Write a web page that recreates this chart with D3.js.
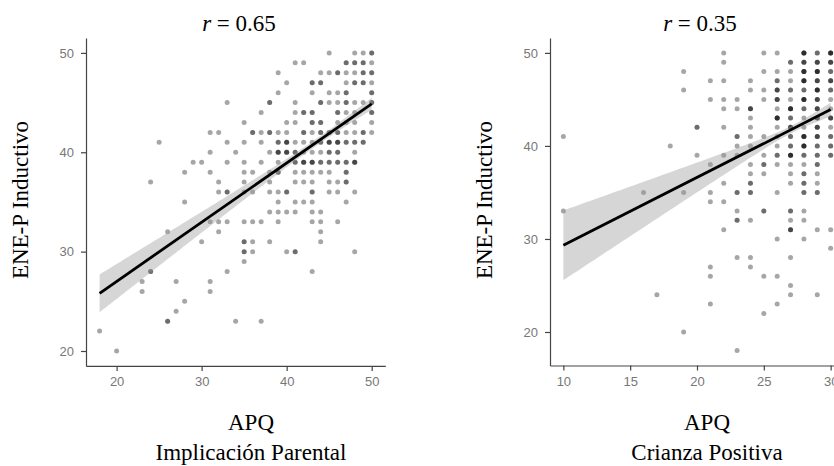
<!DOCTYPE html>
<html><head><meta charset="utf-8">
<script src="https://cdn.jsdelivr.net/npm/d3@7"></script>
<style>
html,body{margin:0;padding:0;background:#fff;}
svg{display:block;}
</style></head>
<body>
<svg id="chart" width="834" height="466"></svg>
<script>
// ---------- DATA ----------
// [x, y, n] : n = number of overlapping observations at that grid point
const leftPoints = [
 [45,50,1],[48,50,1],[49,50,1],[50,50,2],
 [41,49,1],[42,49,1],[47,49,2],[48,49,2],[49,49,2],[50,49,1],
 [39,48,1],[44,48,1],[45,48,1],[46,48,2],[47,48,1],[48,48,1],[49,48,2],[50,48,2],
 [40,47,1],[43,47,2],[44,47,2],[47,47,1],[48,47,2],[49,47,2],[50,47,1],
 [39,46,1],[43,46,1],[45,46,1],[46,46,1],[47,46,2],[50,46,2],
 [33,45,1],[38,45,2],[41,45,1],[44,45,2],[45,45,1],[46,45,1],[47,45,2],[48,45,1],[49,45,1],[50,45,2],
 [37,44,1],[41,44,1],[42,44,2],[43,44,2],[46,44,2],[47,44,1],[48,44,1],[50,44,2],
 [35,43,1],[40,43,1],[41,43,1],[43,43,2],[44,43,2],[46,43,1],[47,43,1],[48,43,1],[50,43,1],
 [31,42,1],[32,42,1],[36,42,2],[37,42,1],[38,42,2],[39,42,1],[40,42,1],[42,42,2],[43,42,1],[44,42,2],[45,42,2],[46,42,2],[47,42,1],[48,42,1],[49,42,2],[50,42,1],
 [25,41,1],[33,41,1],[35,41,1],[37,41,1],[39,41,2],[40,41,3],[41,41,1],[42,41,1],[43,41,1],[44,41,2],[45,41,3],[46,41,3],[47,41,2],[48,41,2],[49,41,2],
 [31,40,1],[34,40,1],[38,40,1],[39,40,3],[40,40,3],[41,40,2],[42,40,1],[43,40,1],[44,40,1],[45,40,2],[46,40,2],[48,40,1],
 [29,39,1],[30,39,1],[33,39,1],[35,39,1],[37,39,1],[39,39,1],[41,39,2],[42,39,3],[43,39,3],[44,39,2],[45,39,2],[46,39,2],[47,39,2],[48,39,3],
 [28,38,1],[31,38,1],[35,38,1],[36,38,1],[38,38,1],[39,38,2],[41,38,1],[42,38,1],[43,38,1],[44,38,1],[45,38,1],[47,38,2],
 [24,37,1],[32,37,1],[35,37,1],[38,37,1],[41,37,1],[42,37,1],[43,37,1],[45,37,1],[46,37,1],[47,37,2],
 [32,36,1],[33,36,2],[35,36,1],[36,36,1],[38,36,1],[39,36,1],[40,36,2],[43,36,2],[45,36,1],[46,36,1],[48,36,1],
 [28,35,1],[39,35,1],[41,35,1],[42,35,1],[43,35,1],[47,35,1],
 [38,34,1],[39,34,1],[40,34,1],[41,34,1],[43,34,1],[44,34,1],
 [31,33,1],[32,33,1],[33,33,1],[35,33,1],[36,33,1],[37,33,1],[39,33,1],[43,33,1],[44,33,1],[46,33,1],
 [26,32,1],[32,32,1],[44,32,1],
 [30,31,1],[35,31,2],[36,31,1],[38,31,1],[44,31,1],
 [35,30,2],[36,30,1],[40,30,1],[41,30,2],[48,30,1],
 [35,29,1],
 [24,28,2],[33,28,1],[43,28,1],
 [23,27,1],[27,27,1],[31,27,1],
 [23,26,1],[31,26,1],
 [28,25,1],
 [27,24,1],
 [26,23,2],[34,23,1],[37,23,1],
 [18,22,1],
 [20,20,1]
];
const rightPoints = [
 [22,50,1],[25,50,1],[26,50,1],[28,50,4],[29,50,2],[30,50,4],
 [22,49,1],[27,49,2],[28,49,3],[29,49,3],[30,49,3],
 [19,48,1],[25,48,1],[26,48,1],[27,48,1],[28,48,4],[29,48,4],[30,48,2],
 [21,47,1],[22,47,1],[24,47,1],[26,47,2],[27,47,1],[28,47,4],[29,47,3],[30,47,3],
 [19,46,1],[24,46,1],[25,46,1],[26,46,3],[27,46,2],[28,46,2],[29,46,4],[30,46,2],
 [21,45,1],[22,45,1],[23,45,1],[25,45,1],[26,45,3],[27,45,1],[28,45,4],[29,45,3],[30,45,1],
 [22,44,1],[23,44,1],[24,44,3],[26,44,1],[27,44,4],[28,44,2],[29,44,3],[30,44,1],
 [24,43,1],[26,43,4],[27,43,2],[28,43,1],[29,43,3],[30,43,3],
 [20,42,2],[22,42,1],[24,42,1],[26,42,1],[27,42,3],[28,42,1],[29,42,3],[30,42,1],
 [10,41,1],[23,41,2],[24,41,1],[25,41,1],[26,41,1],[27,41,2],[28,41,4],[29,41,3],[30,41,2],
 [18,40,1],[23,40,1],[24,40,1],[26,40,1],[27,40,2],[28,40,4],[29,40,2],[30,40,2],
 [20,39,1],[22,39,1],[23,39,1],[25,39,1],[26,39,2],[27,39,4],[28,39,2],[29,39,2],[30,39,2],
 [21,38,1],[24,38,1],[25,38,2],[26,38,1],[27,38,1],[28,38,1],[29,38,2],
 [24,37,1],[25,37,1],[27,37,1],[28,37,2],[29,37,1],
 [22,36,1],[24,36,2],[27,36,1],[28,36,2],[29,36,1],
 [16,35,1],[19,35,1],[21,35,1],[23,35,2],[24,35,2],[26,35,1],[28,35,2],[29,35,2],
 [21,34,1],[22,34,1],
 [10,33,1],[23,33,1],[25,33,2],[27,33,2],[28,33,1],
 [23,32,2],[24,32,1],[27,32,1],[28,32,1],
 [22,31,1],[27,31,3],[29,31,1],[30,31,1],
 [26,30,1],[28,30,1],
 [30,29,1],
 [23,28,1],[24,28,1],[27,28,1],
 [21,27,1],[24,27,1],
 [21,26,1],[25,26,1],[26,26,1],
 [27,25,1],
 [17,24,1],[27,24,1],[29,24,1],
 [21,23,1],[26,23,1],
 [25,22,1],
 [19,20,1],
 [23,18,1]
];
// fitted regression lines (intercept, slope, x extent) and CI shape
const leftFit  = {intercept: 15.08, slope: 0.596, xmin: 18, xmax: 50, ciMin: 0.35, ciCenter: 43.4, ciGrow: 0.0736};
const rightFit = {intercept: 22.02, slope: 0.7295, xmin: 10, xmax: 30, ciMin: 0.40, ciCenter: 27.1, ciGrow: 0.218};

const leftXTicks  = [20, 30, 40, 50];
const leftYTicks  = [20, 30, 40, 50];
const rightXTicks = [10, 15, 20, 25, 30];
const rightYTicks = [20, 30, 40, 50];

const titles  = ["0.65", "0.35"];
const yTitle  = "ENE-P Inductivo";
const xTitle1 = ["APQ", "APQ"];
const xTitle2 = ["Implicación Parental", "Crianza Positiva"];

// ---------- DRAW ----------
const svg = d3.select("#chart");
const SERIF = "'Liberation Serif','Times New Roman',Times,serif";
const SANS  = "'Liberation Sans',Arial,Helvetica,sans-serif";

const panels = [
  {pts: leftPoints, fit: leftFit, xt: leftXTicks, yt: leftYTicks,
   x: d3.scaleLinear().domain([16.4, 51.6]).range([86, 385.3]),
   y: d3.scaleLinear().domain([18.5, 51.5]).range([365.9, 38]),
   title: titles[0], titleX: 239, xtX: 251, ytX: 28, x1: xTitle1[0], x2: xTitle2[0]},
  {pts: rightPoints, fit: rightFit, xt: rightXTicks, yt: rightYTicks,
   x: d3.scaleLinear().domain([9, 31]).range([550, 844]),
   y: d3.scaleLinear().domain([16.4, 51.6]).range([365.5, 38]),
   title: titles[1], titleX: 700, xtX: 707, ytX: 492, x1: xTitle1[1], x2: xTitle2[1]}
];

panels.forEach(p => {
  const g = svg.append("g");
  const expanded = [];
  p.pts.forEach(d => { for (let i = 0; i < d[2]; i++) expanded.push(d); });
  g.append("g").selectAll("circle").data(expanded).join("circle")
    .attr("cx", d => p.x(d[0])).attr("cy", d => p.y(d[1]))
    .attr("r", 2.5).attr("fill", "#000").attr("fill-opacity", 0.35);

  const f = p.fit;
  const xs = d3.range(f.xmin, f.xmax + 0.001, 0.25);
  const pred = x => f.intercept + f.slope * x;
  const hw = x => Math.sqrt(f.ciMin * f.ciMin + Math.pow(f.ciGrow * (x - f.ciCenter), 2));
  g.append("path")
    .attr("d", d3.area().x(x => p.x(x)).y0(x => p.y(pred(x) - hw(x))).y1(x => p.y(pred(x) + hw(x)))(xs))
    .attr("fill", "#999").attr("fill-opacity", 0.4);
  g.append("path")
    .attr("d", d3.line().x(x => p.x(x)).y(x => p.y(pred(x)))([f.xmin, f.xmax]))
    .attr("stroke", "#000").attr("stroke-width", 2.8).attr("fill", "none");

  const [x0] = p.x.range();
  const yB = p.y.range()[0];
  const ax = g.append("g").attr("transform", `translate(0,${yB})`)
    .call(d3.axisBottom(p.x).tickValues(p.xt).tickSize(5).tickSizeOuter(0).tickPadding(6));
  const ay = g.append("g").attr("transform", `translate(${x0},0)`)
    .call(d3.axisLeft(p.y).tickValues(p.yt).tickSize(5).tickSizeOuter(0).tickPadding(7));
  [ax, ay].forEach(a => {
    a.select(".domain").attr("stroke", "#444").attr("stroke-width", 1.2);
    a.selectAll(".tick line").attr("stroke", "#444").attr("stroke-width", 1.2);
    a.selectAll(".tick text").attr("fill", "#777").style("font-family", SANS).style("font-size", "13px");
  });

  const t = svg.append("text").attr("x", p.titleX).attr("y", 31)
    .attr("text-anchor", "middle").style("font-family", SERIF).style("font-size", "23px").attr("fill", "#000");
  t.append("tspan").style("font-style", "italic").text("r");
  t.append("tspan").text(" = " + p.title);

  svg.append("text").attr("transform", `translate(${p.ytX},200) rotate(-90)`)
    .attr("text-anchor", "middle").style("font-family", SERIF).style("font-size", "23px")
    .attr("fill", "#000").text(yTitle);

  svg.append("text").attr("x", p.xtX).attr("y", 430).attr("text-anchor", "middle")
    .style("font-family", SERIF).style("font-size", "23px").attr("fill", "#000").text(p.x1);
  svg.append("text").attr("x", p.xtX).attr("y", 460).attr("text-anchor", "middle")
    .style("font-family", SERIF).style("font-size", "23px").attr("fill", "#000").text(p.x2);
});
</script>
</body></html>
